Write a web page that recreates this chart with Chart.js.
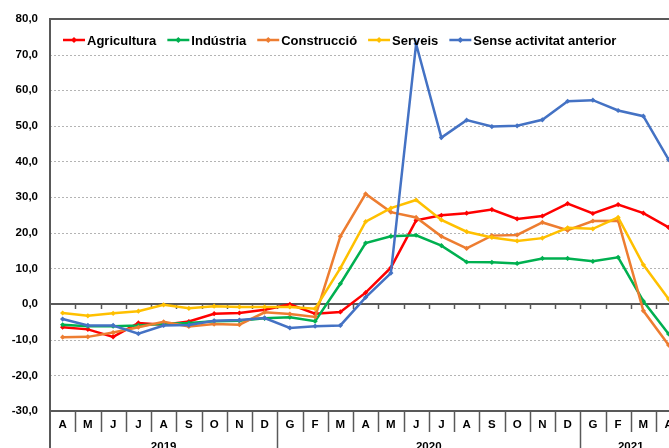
<!DOCTYPE html>
<html>
<head>
<meta charset="utf-8">
<script src="https://cdn.jsdelivr.net/npm/chart.js@4/dist/chart.umd.min.js"></script>
<style>
html,body{margin:0;padding:0;background:#fff;overflow:hidden;width:669px;height:448px;}
canvas{display:block;}
</style>
</head>
<body>
<canvas id="c" width="690" height="448"></canvas>
<script>
const months = ['A','M','J','J','A','S','O','N','D','G','F','M','A','M','J','J','A','S','O','N','D','G','F','M','A'];
const years = ['2019','2020','2021'];
const yearCounts = [9,12,4];
const seriesNames = ['Agricultura','Indústria','Construcció','Serveis','Sense activitat anterior'];
const seriesColors = ['#FF0000','#00B050','#ED7D31','#FFC000','#4472C4'];
const agricultura = [-6.5,-7.1,-9.2,-5.3,-5.8,-4.9,-2.7,-2.5,-1.6,-0.1,-2.7,-2.2,3.2,10.2,23.5,24.9,25.5,26.5,23.9,24.7,28.2,25.4,27.9,25.5,21.5];
const industria = [-5.8,-6.2,-6.2,-6.0,-5.5,-5.3,-4.8,-4.7,-4.0,-3.7,-4.8,5.7,17.1,19.0,19.3,16.4,11.8,11.7,11.4,12.8,12.8,12.0,13.1,0.8,-8.4];
const construccio = [-9.3,-9.2,-8.0,-6.5,-5.0,-6.3,-5.6,-5.8,-2.3,-2.8,-3.6,19.0,30.9,25.8,24.3,19.0,15.6,19.2,19.4,22.9,20.7,23.3,23.4,-1.9,-11.5];
const serveis = [-2.5,-3.3,-2.6,-2.0,-0.2,-1.2,-0.6,-0.8,-0.8,-0.8,-1.3,10.1,23.1,26.9,29.2,23.6,20.3,18.7,17.7,18.5,21.4,21.1,24.3,11.0,1.4];
const sense = [-4.2,-6.0,-6.0,-8.3,-6.0,-5.9,-4.7,-4.5,-3.9,-6.7,-6.2,-6.0,1.9,8.7,73.0,46.7,51.6,49.8,50.0,51.7,56.9,57.2,54.3,52.7,40.5];
const seriesData = [agricultura, industria, construccio, serveis, sense];
const yMin = -30, yMax = 80, yStep = 10;

const AXIS = '#595959';
const BOLD = 'bold 11.5px "Liberation Sans", Arial, sans-serif';
const LEGEND_FONT = 'bold 13px "Liberation Sans", Arial, sans-serif';

const framePlugin = {
  id: 'frame',
  beforeDatasetsDraw(chart) {
    const ctx = chart.ctx, ca = chart.chartArea;
    const x = chart.scales.x, y = chart.scales.y;
    ctx.save();
    // dashed gridlines
    ctx.strokeStyle = '#b4b4b4';
    ctx.lineWidth = 1;
    ctx.setLineDash([2,2]);
    for (let v = yMin + yStep; v < yMax; v += yStep) {
      if (v === 0) continue;
      const py = Math.round(y.getPixelForValue(v)) + 0.5;
      ctx.beginPath(); ctx.moveTo(ca.left, py); ctx.lineTo(ca.right, py); ctx.stroke();
    }
    ctx.setLineDash([]);
    ctx.strokeStyle = AXIS;
    ctx.lineWidth = 2;
    // top, zero, bottom lines
    [yMax, 0, yMin].forEach(v => {
      const py = Math.round(y.getPixelForValue(v));
      ctx.beginPath(); ctx.moveTo(ca.left, py); ctx.lineTo(ca.right, py); ctx.stroke();
    });
    // left axis line
    ctx.beginPath(); ctx.moveTo(ca.left, ca.top - 1); ctx.lineTo(ca.left, chart.height); ctx.stroke();
    ctx.beginPath(); ctx.moveTo(ca.right, ca.top - 1); ctx.lineTo(ca.right, chart.height); ctx.stroke();
    // boundaries
    const n = months.length;
    const bnd = [];
    for (let i = 0; i < n - 1; i++) bnd.push((x.getPixelForValue(i) + x.getPixelForValue(i + 1)) / 2);
    const zy = Math.round(y.getPixelForValue(0));
    const by = Math.round(y.getPixelForValue(yMin));
    ctx.lineWidth = 1.5;
    bnd.forEach(bx => {
      const px = Math.round(bx) + 0.5;
      ctx.beginPath(); ctx.moveTo(px, zy); ctx.lineTo(px, zy + 5); ctx.stroke();
    });
    // month separators & year separators
    const yearEnds = [];
    let acc = 0;
    yearCounts.forEach(c => { acc += c; yearEnds.push(acc - 1); });
    bnd.forEach((bx, i) => {
      const px = Math.round(bx) + 0.5;
      const isYear = yearEnds.includes(i);
      ctx.lineWidth = isYear ? 1.5 : 1.5;
      ctx.beginPath(); ctx.moveTo(px, by); ctx.lineTo(px, isYear ? chart.height : by + 21); ctx.stroke();
    });
    // month labels
    ctx.fillStyle = '#000';
    ctx.font = BOLD;
    ctx.textAlign = 'center';
    ctx.textBaseline = 'middle';
    months.forEach((m, i) => ctx.fillText(m, x.getPixelForValue(i), by + 14));
    // year labels
    let start = 0;
    years.forEach((yr, k) => {
      const s = start, e = start + yearCounts[k] - 1;
      const left = s === 0 ? ca.left : bnd[s - 1];
      const right = e === n - 1 ? ca.right : bnd[e];
      ctx.textBaseline = 'top';
      ctx.fillText(yr, (left + right) / 2, by + 30);
      start += yearCounts[k];
    });
    ctx.restore();
  },
  afterDraw(chart) {
    const ctx = chart.ctx;
    ctx.save();
    ctx.font = LEGEND_FONT;
    ctx.textBaseline = 'middle';
    ctx.textAlign = 'left';
    let lx = 63;
    const ly = 40;
    seriesNames.forEach((name, i) => {
      ctx.strokeStyle = seriesColors[i];
      ctx.fillStyle = seriesColors[i];
      ctx.lineWidth = 2.5;
      ctx.beginPath(); ctx.moveTo(lx, ly); ctx.lineTo(lx + 22, ly); ctx.stroke();
      ctx.beginPath();
      ctx.moveTo(lx + 11, ly - 3); ctx.lineTo(lx + 14, ly); ctx.lineTo(lx + 11, ly + 3); ctx.lineTo(lx + 8, ly);
      ctx.closePath(); ctx.fill();
      ctx.fillStyle = '#000';
      ctx.fillText(name, lx + 24, ly + 1);
      lx += 24 + ctx.measureText(name).width + 11;
    });
    ctx.restore();
  }
};

new Chart(document.getElementById('c'), {
  type: 'line',
  data: {
    labels: months,
    datasets: seriesData.map((d, i) => ({
      label: seriesNames[i],
      data: d,
      borderColor: seriesColors[i],
      backgroundColor: seriesColors[i],
      borderWidth: 2.5,
      pointStyle: 'rectRot',
      pointRadius: 2.6,
      pointBorderWidth: 0,
      tension: 0,
      order: 5 - i
    }))
  },
  options: {
    responsive: false,
    animation: false,
    devicePixelRatio: 1,
    layout: { padding: { top: 16, bottom: 37, left: 0, right: 8.75 } },
    plugins: { legend: { display: false }, tooltip: { enabled: false } },
    scales: {
      x: { type: 'category', offset: true, display: false },
      y: {
        min: yMin, max: yMax,
        afterFit(s) { s.width = 50; },
        ticks: {
          stepSize: yStep,
          padding: 12,
          color: '#000',
          font: { family: '"Liberation Sans", Arial, sans-serif', size: 11.5, weight: 'bold' },
          callback: v => v.toFixed(1).replace('.', ',')
        },
        grid: { display: false, drawTicks: false },
        border: { display: false }
      }
    }
  },
  plugins: [framePlugin]
});
</script>
</body>
</html>
